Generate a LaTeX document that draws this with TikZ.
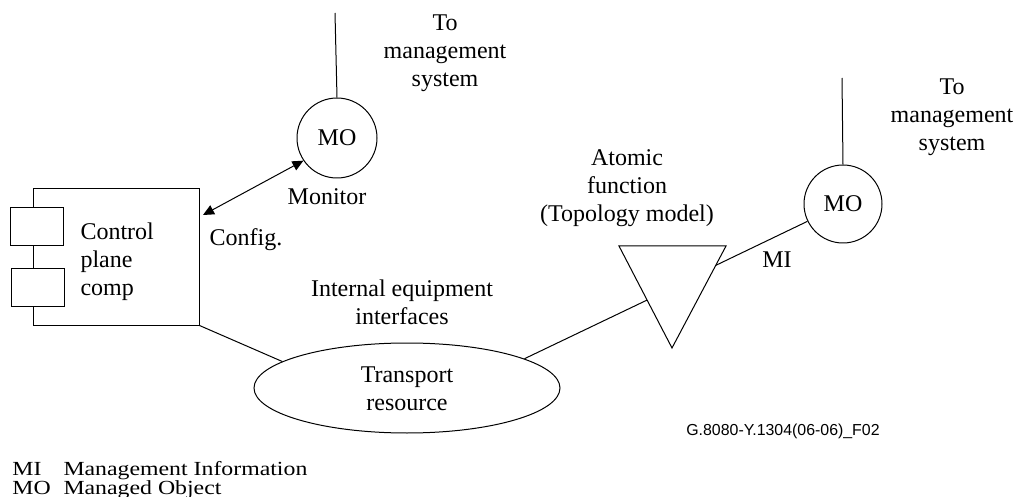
\documentclass[tikz,border=0pt]{standalone}
\usepackage{fontspec}
\setmainfont{Liberation Serif}
\newfontfamily\sansf{Liberation Sans}
\usetikzlibrary{arrows.meta,calc,shapes.geometric}
\newcommand{\widetxt}[1]{\scalebox{1.19}[1]{#1}}
\begin{document}
\begin{tikzpicture}[x=1pt,y=-1pt,line width=1pt,
  txt/.style={font=\fontsize{24}{28}\selectfont,align=center,inner sep=0pt},
  legend/.style={font=\fontsize{20}{20}\selectfont,anchor=base west,inner sep=0pt},
  mobox/.style={draw,circle,inner sep=0pt,font=\fontsize{24}{28}\selectfont},
  sbox/.style={draw,fill=white,inner sep=0pt,minimum width=53pt,minimum height=38pt},
  dblarrow/.style={<->,>={Triangle[length=11pt,width=10pt]}}]
\useasboundingbox (0,0) rectangle (1018,497);
% control plane component
\node[draw,inner sep=0pt,minimum width=166pt,minimum height=136pt] (box) at (116,257) {};
\node[sbox] (s1) at (36.5,227) {};
\node[sbox] (s2) at (37.5,288) {};
\node[txt,align=left,anchor=west] (cpc) at (80,262) {Control\\plane\\comp};
% managed objects
\node[mobox,minimum size=80pt] (mo1) at (337,138) {MO};
\node[mobox,minimum size=78pt] (mo2) at (843,204) {MO};
\coordinate (top1) at (335,13);
\coordinate (top2) at (842,78);
\node[txt] (tm1) at (445,53) {To\\management\\system};
\node[txt] (tm2) at (952,117) {To\\management\\system};
\node[txt] (mon) at (327,197) {Monitor};
\node[txt] (cfgl) at (246,240) {Config.};
% transport resource
\node[draw,ellipse,inner sep=0pt,minimum width=306pt,minimum height=90pt] (res) at (407,388) {};
\node[txt] (resl) at (407,389) {Transport\\resource};
\node[txt] (iei) at (402,302) {Internal equipment\\interfaces};
% atomic function
\coordinate (tl) at (619,246);
\coordinate (tr) at (726,246);
\coordinate (ap) at (672,348);
\draw (tl) -- (tr) -- (ap) -- cycle;
\coordinate (tlE) at ($(tl)!0.53!(ap)$);
\coordinate (trE) at ($(tr)!0.19!(ap)$);
\node[txt] (afl) at (627,188) {Atomic\\function\\(Topology model)};
\node[txt] (mil) at (777,260) {MI};
% connectors
\coordinate (cfg) at (203,215);
\draw (mo1.north) -- (top1);
\draw (mo2.north) -- (top2);
\draw[dblarrow] (cfg) -- (mo1.214);
\draw (box.south east) -- (res.168);
\draw (res.14) -- (tlE);
\draw (trE) -- (mo2.206);
% legend
\node[legend] (l1a) at (12,475) {\widetxt{MI}};
\node[legend] (l1b) at (63,475) {\widetxt{Management Information}};
\node[legend] (l2a) at (12,494) {\widetxt{MO}};
\node[legend] (l2b) at (63,494) {\widetxt{Managed Object}};
\node[font=\sansf\fontsize{15.9}{18}\selectfont,inner sep=0pt] (fig) at (783,431) {G.8080-Y.1304(06-06)\_F02};
\end{tikzpicture}
\end{document}
